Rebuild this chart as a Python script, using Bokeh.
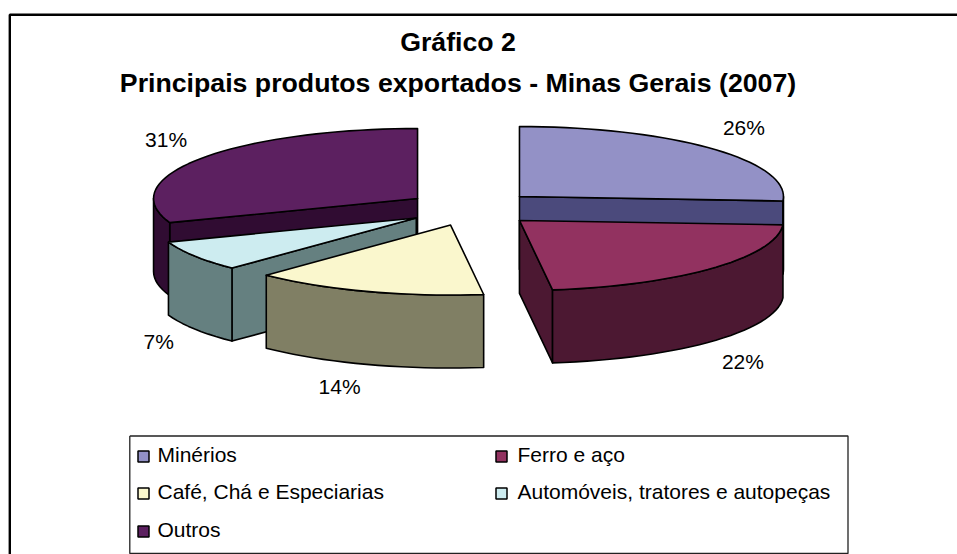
import math
from bokeh.plotting import figure
from bokeh.models import Range1d, ColumnDataSource
from bokeh.core.properties import value
from bokeh.embed import file_html
from bokeh.resources import INLINE

# ---- data ----
CATEGORIES = ["Minérios", "Ferro e aço", "Café, Chá e Especiarias",
              "Automóveis, tratores e autopeças", "Outros"]
SHARES = [26.0, 22.0, 14.3, 7.1, 30.6]   # printed rounded; decimals
TITLE_LINES = ["Gráfico 2", "Principais produtos exportados - Minas Gerais (2007)"]

# ---- styles ----
TOP_COLORS = ["#9391C6", "#923260", "#FAF7CD", "#CDECF0", "#5C2060"]
SIDE_COLORS = ["#4B4A7C", "#4C1832", "#807F64", "#658080", "#300C32"]
FONT = "Liberation Sans"

# ---- layout (pixels in the figure's own scale) ----
W, H = 957, 554
CX, CY = 471.0, 208.0      # pie centre
RX, RY = 264.0, 70.0       # ellipse radii
DEPTH = 73.0               # extrusion
EXPLODE = 65.8             # radial explosion along x
TILT = RY / RX
LABEL_NUDGE = [(32, -21), (31, 20), (-27, 22), (-36, 12), (-35, -19)]
LEGEND_BOX = (129.3, 435.5, 847.5, 553.0)
LEGEND_ROWS = [456, 493, 531]
LEGEND_COLS = [(143, 157), (501, 517)]
LEGEND_CELLS = [(0, 0), (1, 0), (0, 1), (1, 1), (0, 2)]

p = figure(width=W, height=H, output_backend="svg", toolbar_location=None,
           x_range=Range1d(0, W), y_range=Range1d(H, 0),
           min_border=0, outline_line_color=None, background_fill_color="white")
p.axis.visible = False
p.grid.visible = False


def pt(a, ax, ay, dz=0.0):
    return ax + RX * math.sin(a), ay - RY * math.cos(a) + dz


total = sum(SHARES)
slices = []
acc = 0.0
for i, v in enumerate(SHARES):
    a0 = 2 * math.pi * acc / total
    a1 = 2 * math.pi * (acc + v) / total
    mid = (a0 + a1) / 2
    ax = CX + EXPLODE * math.sin(mid)
    ay = CY - EXPLODE * TILT * math.cos(mid)
    slices.append(dict(i=i, a0=a0, a1=a1, mid=mid, ax=ax, ay=ay))
    acc += v


def arc(a0, a1, ax, ay, dz=0.0):
    n = max(2, int(abs(a1 - a0) / math.radians(2.5)))
    return [pt(a0 + (a1 - a0) * k / n, ax, ay, dz) for k in range(n + 1)]


def radial_face(s, a):
    x1, y1 = pt(a, s["ax"], s["ay"])
    return [(s["ax"], s["ay"]), (x1, y1), (x1, y1 + DEPTH), (s["ax"], s["ay"] + DEPTH)]


xs, ys, fills = [], [], []


def add(poly, color):
    xs.append([q[0] for q in poly])
    ys.append([q[1] for q in poly])
    fills.append(color)


# back to front: Outros, Minérios, Automóveis, Café, Ferro; which radial wall faces the viewer
VISIBLE_WALL = {4: "a0", 0: "a1", 3: "a0", 1: "a1"}
for idx in [4, 0, 3, 2, 1]:
    s = slices[idx]
    side = SIDE_COLORS[idx]
    if idx in VISIBLE_WALL:
        add(radial_face(s, s[VISIBLE_WALL[idx]]), side)
    lo = max(s["a0"], math.pi / 2)
    hi = min(s["a1"], 3 * math.pi / 2)
    if hi > lo:
        add(arc(lo, hi, s["ax"], s["ay"]) + arc(hi, lo, s["ax"], s["ay"], DEPTH), side)
    add([(s["ax"], s["ay"])] + arc(s["a0"], s["a1"], s["ax"], s["ay"]), TOP_COLORS[idx])

p.patches("x", "y", source=ColumnDataSource(dict(x=xs, y=ys, c=fills)),
          fill_color="c", line_color="black", line_width=1.6, line_join="round")

# percent labels
for s, v, (nx, ny) in zip(slices, SHARES, LABEL_NUDGE):
    bx, by = pt(s["mid"], s["ax"], s["ay"])
    if math.cos(s["mid"]) < 0:
        by += DEPTH
    p.text([bx + nx], [by + ny], text=[f"{round(v)}%"], text_font=value(FONT),
           text_font_size="21px", text_color="black",
           text_align="center", text_baseline="middle")

# title
for line, y in zip(TITLE_LINES, [41.5, 82]):
    p.text([457.5], [y], text=[line], text_font=value(FONT), text_font_style="bold",
           text_font_size="26.7px", text_color="black",
           text_align="center", text_baseline="middle")

# chart frame, open on the right and at the bottom as in the reference
p.line([9.3, 9.3, W], [H, 14.3, 14.3], line_color="black", line_width=2.4)

# legend
x0, y0, x1, y1 = LEGEND_BOX
p.line([x0, x1, x1, x0, x0], [y0, y0, y1, y1, y0], line_color="#222222", line_width=1.3)
for name, col, (c, r) in zip(CATEGORIES, TOP_COLORS, LEGEND_CELLS):
    mx, tx = LEGEND_COLS[c]
    ry = LEGEND_ROWS[r]
    p.rect([mx], [ry], width=11, height=11, fill_color=col, line_color="black", line_width=1.5)
    p.text([tx], [ry - 2.5], text=[name], text_font=value(FONT), text_font_size="21px",
           text_color="black", text_align="left", text_baseline="middle")

open("out.html", "w").write(file_html(p, INLINE))
